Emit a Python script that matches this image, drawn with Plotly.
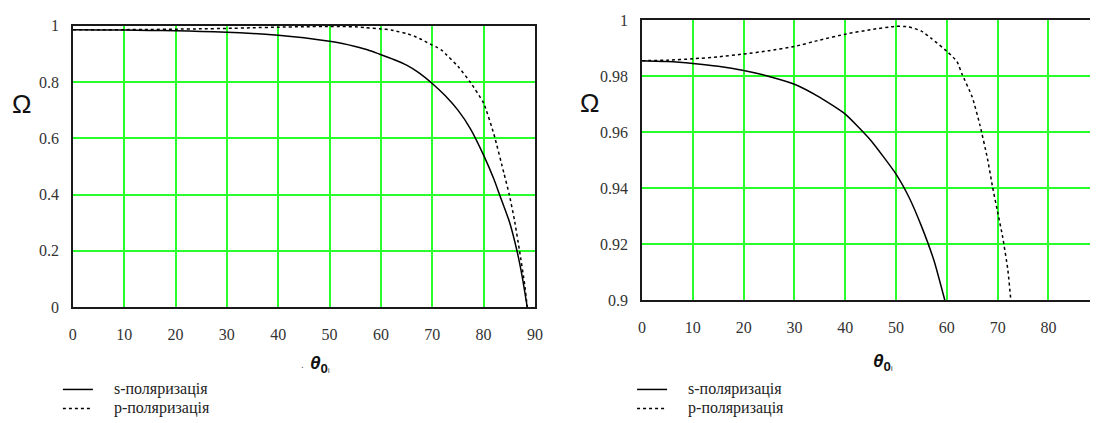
import plotly.graph_objects as go

# ---- data ----
theta_s = [0, 5, 10, 15, 20, 25, 30, 35, 40, 45, 50, 52.5, 55, 57.5, 59.6, 62.5,
           65, 67.5, 70, 72.5, 75, 77.5, 80, 82, 83, 85, 86.5, 87.5, 88.5]
omega_s = [0.9856, 0.9853, 0.9846, 0.9836, 0.9821, 0.9800, 0.9772, 0.9725, 0.9665,
           0.9572, 0.9451, 0.9370, 0.9265, 0.9140, 0.9000, 0.8800,
           0.8600, 0.8320, 0.7950, 0.7520, 0.7000, 0.6320, 0.5400,
           0.4550, 0.4050, 0.3050, 0.2000, 0.1100, 0.0]

theta_p = [0, 5, 10, 15, 20, 25, 30, 35, 40, 45, 50, 52.5, 55, 57, 60, 62, 63,
           65, 66.5, 68, 69, 70, 71, 72, 72.6, 75, 77.5, 80, 82, 84, 85, 86, 87, 88, 88.5]
omega_p = [0.9856, 0.9858, 0.9863, 0.9870, 0.9880, 0.9892, 0.9907, 0.9930, 0.9951,
           0.9967, 0.9979, 0.9977, 0.9962, 0.9935, 0.9890, 0.9853, 0.9808,
           0.9726, 0.9627, 0.9506, 0.9405, 0.9315, 0.9225, 0.9110, 0.9000,
           0.8560, 0.7970, 0.7250, 0.6150, 0.4730, 0.4000, 0.3100, 0.2000, 0.0800, 0.0]

x_ticks_left = [0, 10, 20, 30, 40, 50, 60, 70, 80, 90]
y_ticks_left = [0, 0.2, 0.4, 0.6, 0.8, 1]
x_ticks_right = [0, 10, 20, 30, 40, 50, 60, 70, 80]
y_ticks_right = [0.9, 0.92, 0.94, 0.96, 0.98, 1]
legend_labels = ["s-поляризація", "p-поляризація"]

W, H = 1098, 423
GRID = "#2bff2b"
AXC = "#1a1a1a"
SERIF = "Liberation Serif, Times New Roman, serif"
TICKFONT = dict(family=SERIF, size=16, color="#333333")

fig = go.Figure()

solid = dict(color="black", width=1.5, shape="spline", smoothing=0.5)
dashed = dict(color="black", width=1.5, dash="3px,3px", shape="spline", smoothing=0.5)


def leg_name(s):
    return "<span style='font-size:16px'>\u00a0\u00a0\u00a0\u00a0" + s + "</span>"


fig.add_trace(go.Scatter(x=theta_s, y=omega_s, mode="lines", line=solid,
                         name=leg_name(legend_labels[0]), xaxis="x", yaxis="y", legend="legend"))
fig.add_trace(go.Scatter(x=theta_p, y=omega_p, mode="lines", line=dashed,
                         name=leg_name(legend_labels[1]), xaxis="x", yaxis="y", legend="legend"))
fig.add_trace(go.Scatter(x=theta_s, y=omega_s, mode="lines", line=solid,
                         name=leg_name(legend_labels[0]), xaxis="x2", yaxis="y2", legend="legend2"))
fig.add_trace(go.Scatter(x=theta_p, y=omega_p, mode="lines", line=dashed,
                         name=leg_name(legend_labels[1]), xaxis="x2", yaxis="y2", legend="legend2"))


def px_x(p):
    return p / W


def px_y(p):
    return (H - p) / H


common_x = dict(showgrid=True, gridcolor=GRID, gridwidth=1.6, zeroline=False,
                showline=True, linecolor=AXC, linewidth=1.5, ticks="",
                tickfont=TICKFONT, ticklabelstandoff=12)
common_y = dict(showgrid=True, gridcolor=GRID, gridwidth=1.6, zeroline=False,
                showline=True, linecolor=AXC, linewidth=1.5, ticks="",
                tickfont=TICKFONT, ticklabelstandoff=9)

legend_font = dict(family=SERIF, size=12, color="#222222")

fig.update_layout(
    width=W, height=H,
    margin=dict(l=0, r=0, t=0, b=0),
    paper_bgcolor="white", plot_bgcolor="white",
    xaxis=dict(domain=[px_x(69.6), px_x(536.8)], range=[0, 90],
               tickvals=x_ticks_left, anchor="y", mirror=True, **common_x),
    yaxis=dict(domain=[px_y(324.3), px_y(19.3)], range=[0, 1],
               tickvals=y_ticks_left, anchor="x", mirror=True, **common_y),
    xaxis2=dict(domain=[px_x(645.1), 1.0], range=[0, (W - 645.1) / 5.136],
                tickvals=x_ticks_right, anchor="y2", mirror=True, **common_x),
    yaxis2=dict(domain=[px_y(317), px_y(13.5)], range=[0.9, 1.0],
                tickvals=y_ticks_right, anchor="x2", mirror=False, **common_y),
    legend=dict(x=px_x(54.5), y=px_y(398), xanchor="left", yanchor="top",
                bgcolor="rgba(0,0,0,0)", font=legend_font, borderwidth=0,
                tracegroupgap=0),
    legend2=dict(x=px_x(635), y=px_y(398), xanchor="left", yanchor="top",
                 bgcolor="rgba(0,0,0,0)", font=legend_font, borderwidth=0,
                 tracegroupgap=0),
    showlegend=True,
)

annots = [
    dict(text="Ω", x=px_x(18), y=px_y(104), font=dict(family="Liberation Sans", size=26, color="#111")),
    dict(text="Ω", x=px_x(592), y=px_y(103), font=dict(family="Liberation Sans", size=26, color="#111")),
]
theta_txt = "<b><i>θ</i></b><sub><b>0</b><span style='font-size:7px'>i</span></sub>"
annots += [
    dict(text=theta_txt, x=px_x(319), y=px_y(386),
         font=dict(family="Liberation Sans", size=19, color="#111")),
    dict(text=theta_txt, x=px_x(889), y=px_y(384),
         font=dict(family="Liberation Sans", size=19, color="#111")),
    dict(text=".", x=px_x(302), y=px_y(387),
         font=dict(family="Liberation Sans", size=10, color="#555")),
]
for a in annots:
    a.update(xref="paper", yref="paper", showarrow=False, xanchor="center", yanchor="middle")
fig.update_layout(annotations=annots)

fig.write_html("out.html")
